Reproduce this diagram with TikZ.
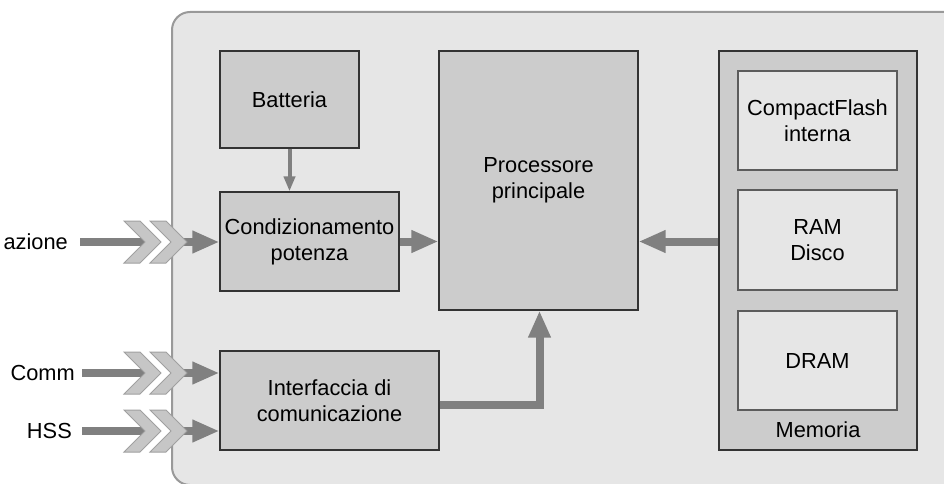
\documentclass[tikz,border=0pt]{standalone}
\usepackage{fontspec}
\setmainfont{Liberation Sans}
\usetikzlibrary{arrows.meta}
\definecolor{panelfill}{HTML}{E6E6E6}
\definecolor{panelline}{HTML}{999999}
\definecolor{boxfill}{HTML}{CCCCCC}
\definecolor{boxline}{HTML}{333333}
\definecolor{arrowcol}{HTML}{808080}
\definecolor{chevfill}{HTML}{C6C6C6}
\definecolor{chevline}{HTML}{A0A0A0}
\tikzset{
  txt/.style={font=\fontsize{21.8}{26}\selectfont, align=center},
  blockbox/.style={txt, draw=boxline, fill=boxfill, line width=1.2pt, inner sep=0pt},
  innerbox/.style={txt, draw=boxline!80, fill=panelfill, line width=1.2pt, inner sep=0pt},
  lbl/.style={txt, inner sep=0pt, anchor=east},
  fatline/.style={draw=arrowcol, line width=8pt},
  fatarrow/.style={draw=arrowcol, line width=8pt, -{Triangle[length=27pt, width=21pt]}},
  thinarrow/.style={draw=arrowcol, line width=4pt, -{Triangle[length=15pt, width=11pt]}},
  chev/.style={fill=chevfill, draw=chevline, line width=1pt, line join=miter},
}
\newcommand{\chevron}[2]{%
  \path[chev] (#1,#2-21) -- (#1+16,#2-21) -- (#1+37,#2) -- (#1+16,#2+21)
    -- (#1,#2+21) -- (#1+21,#2) -- cycle;}
\begin{document}
\begin{tikzpicture}[x=1pt, y=-1pt]
\useasboundingbox (0,0) rectangle (944,484);
\clip (0,0) rectangle (944,484);
% panel
\path[fill=panelfill, draw=panelline, line width=2pt, rounded corners=18pt]
  (172,12) rectangle (980,485);
% blocks
\node[blockbox, minimum width=139pt, minimum height=97pt] (bat) at (289.5,99.5) {Batteria};
\node[blockbox, minimum width=179pt, minimum height=99pt] (cond) at (309.5,241.5) {Condizionamento\\potenza};
\node[blockbox, minimum width=199pt, minimum height=259pt] (proc) at (538.5,180.5) {Processore\\principale};
\node[blockbox, minimum width=219pt, minimum height=99pt] (intf) at (329.5,400.5) {Interfaccia di\\comunicazione};
\node[blockbox, minimum width=198pt, minimum height=399pt] (mem) at (818,250.5) {};
\node[innerbox, minimum width=159pt, minimum height=99pt] (cf) at (817.5,120.5) {CompactFlash\\interna};
\node[innerbox, minimum width=159pt, minimum height=100pt] (ram) at (817.5,240) {RAM\\Disco};
\node[innerbox, minimum width=159pt, minimum height=99pt] (dram) at (817.5,360.5) {DRAM};
\node[txt, inner sep=0pt] (memlbl) at (818,430) {Memoria};
% left labels
\node[lbl] (alim) at (68,242) {azione};
\node[lbl] (comm) at (75,373) {Comm};
\node[lbl] (hss) at (72,431) {HSS};
\coordinate (alimS) at (80,242);  \coordinate (alimM) at (145,242); \coordinate (alimN) at (171,242);
\coordinate (commS) at (82,373);  \coordinate (commM) at (145,373); \coordinate (commN) at (171,373);
\coordinate (hssS) at (82,431);   \coordinate (hssM) at (145,431);  \coordinate (hssN) at (171,431);
% internal arrows
\draw[thinarrow] (bat.south) -- (bat.south |- cond.north);
\draw[fatarrow] (cond.east) -- (proc.west |- cond.east);
\draw[fatarrow] (mem.west |- cond.east) -- (proc.east |- cond.east);
\draw[fatarrow] ([yshift=-4pt]intf.east) -| ([xshift=1pt]proc.south);
% input arrows
\draw[fatline] (alimS) -- (alimM);
\draw[fatarrow] (alimN) -- (cond.west |- alimN);
\draw[fatline] (commS) -- (commM);
\draw[fatarrow] (commN) -- (intf.west |- commN);
\draw[fatline] (hssS) -- (hssM);
\draw[fatarrow] (hssN) -- (intf.west |- hssN);
\chevron{124}{242}\chevron{150}{242}
\chevron{124}{373}\chevron{150}{373}
\chevron{124}{431}\chevron{150}{431}
\end{tikzpicture}
\end{document}
